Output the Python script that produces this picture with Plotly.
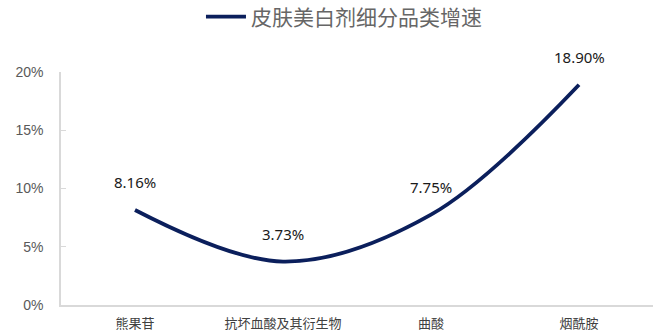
import plotly.graph_objects as go

categories = ["熊果苷", "抗坏血酸及其衍生物", "曲酸", "烟酰胺"]
growth = [8.16, 3.73, 7.75, 18.90]
labels = ["8.16%", "3.73%", "7.75%", "18.90%"]
y_ticks = [0, 5, 10, 15, 20]
y_tick_text = ["0%", "5%", "10%", "15%", "20%"]
series_name = "皮肤美白剂细分品类增速"

fig = go.Figure()
fig.add_trace(go.Scatter(
    x=categories, y=growth, mode="lines", name=series_name,
    line=dict(color="#0B1F5C", width=3.8, shape="spline", smoothing=1.0),
    showlegend=True,
))

for c, v, t in zip(categories, growth, labels):
    fig.add_annotation(x=c, y=v, text=t, showarrow=False, yshift=28,
                       font=dict(family="Noto Sans", size=15, color="#1a1a1a"))

fig.update_layout(
    width=653, height=336,
    margin=dict(l=61, r=0, t=72, b=31, autoexpand=False),
    paper_bgcolor="white", plot_bgcolor="white",
    showlegend=True,
    legend=dict(orientation="h", x=0.478, xanchor="center", y=1.236, yanchor="middle",
                font=dict(family="Noto Sans CJK SC", size=21, color="#666666"),
                itemwidth=40, bgcolor="rgba(0,0,0,0)"),
    xaxis=dict(type="category", range=[-0.5, 3.5], showline=True, linecolor="#d9d9d9",
               linewidth=2, ticks="", showgrid=False, zeroline=False, automargin=False,
               ticklabelstandoff=5,
               tickfont=dict(family="Noto Sans CJK SC", size=13, color="#404040")),
    yaxis=dict(range=[0, 20], tickvals=y_ticks, ticktext=y_tick_text, showline=True,
               linecolor="#d9d9d9", linewidth=1.5, ticks="inside", ticklen=5,
               tickcolor="#d9d9d9", showgrid=False, zeroline=False, automargin=False,
               tickfont=dict(family="Liberation Sans, Arial", size=14, color="#595959"),
               ticklabelstandoff=13),
)

fig.write_html("out.html", config={"displayModeBar": False},
               post_script="document.body.style.margin='0';")
